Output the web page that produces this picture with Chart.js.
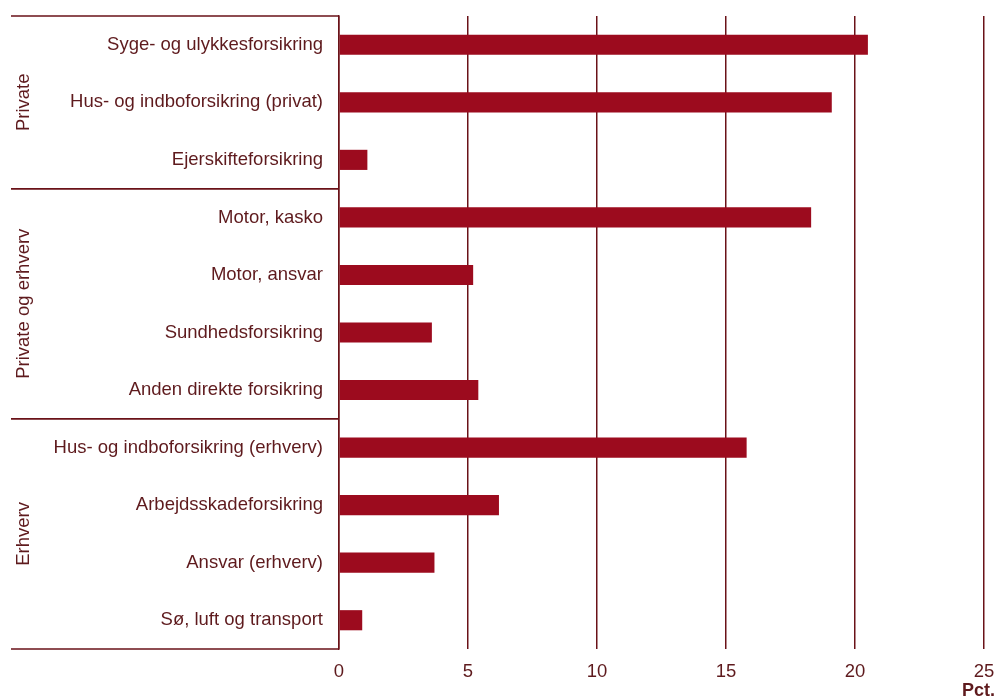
<!DOCTYPE html>
<html>
<head>
<meta charset="utf-8">
<script src="https://cdn.jsdelivr.net/npm/chart.js@4"></script>
<style>
  body { margin: 0; background: #fff; }
  canvas { display: block; }
</style>
</head>
<body>
<canvas id="myChart" width="997" height="697"></canvas>
<script>
const categories = [
  "Syge- og ulykkesforsikring",
  "Hus- og indboforsikring (privat)",
  "Ejerskifteforsikring",
  "Motor, kasko",
  "Motor, ansvar",
  "Sundhedsforsikring",
  "Anden direkte forsikring",
  "Hus- og indboforsikring (erhverv)",
  "Arbejdsskadeforsikring",
  "Ansvar (erhverv)",
  "Sø, luft og transport"
];
const shares = [20.5, 19.1, 1.1, 18.3, 5.2, 3.6, 5.4, 15.8, 6.2, 3.7, 0.9];

// groups: label, first row, last row
const groupNames = ["Private", "Private og erhverv", "Erhverv"];
const groupStart = [0, 3, 7];
const groupEnd = [2, 6, 10];

const textColor = "#5e1a1d";
const lineColor = "#6a1218";
const barColor = "#9c0b1e";
const fontFamily = "'Liberation Sans', Arial, sans-serif";
const fontSize = 18.5;

const groupPlugin = {
  id: "groups",
  afterDraw(chart) {
    const ctx = chart.ctx;
    const y = chart.scales.y;
    const x = chart.scales.x;
    const step = y.getPixelForValue(1) - y.getPixelForValue(0);
    const left = 11;
    const right = y.right;

    ctx.save();
    ctx.strokeStyle = lineColor;
    ctx.lineWidth = 1.5;
    ctx.fillStyle = textColor;
    ctx.font = fontSize + "px " + fontFamily;
    ctx.textAlign = "center";
    ctx.textBaseline = "middle";

    groupNames.forEach((name, i) => {
      const top = y.getPixelForValue(groupStart[i]) - step / 2;
      const bottom = y.getPixelForValue(groupEnd[i]) + step / 2;

      ctx.beginPath();
      ctx.moveTo(left, top);
      ctx.lineTo(right, top);
      ctx.moveTo(left, bottom);
      ctx.lineTo(right, bottom);
      ctx.stroke();

      ctx.save();
      ctx.translate(24, (top + bottom) / 2);
      ctx.rotate(-Math.PI / 2);
      ctx.fillText(name, 0, 0);
      ctx.restore();
    });

    // unit label under the axis end
    ctx.font = "bold 18px " + fontFamily;
    ctx.textAlign = "right";
    ctx.fillText("Pct.", x.right + 11, 691);
    ctx.restore();
  }
};

new Chart(document.getElementById("myChart"), {
  type: "bar",
  data: {
    labels: categories,
    datasets: [{
      data: shares,
      backgroundColor: barColor,
      borderWidth: 0,
      barPercentage: 0.35,
      categoryPercentage: 1
    }]
  },
  options: {
    indexAxis: "y",
    responsive: false,
    animation: false,
    layout: { padding: { top: 16, right: 13, left: 0, bottom: 0 } },
    plugins: {
      legend: { display: false },
      tooltip: { enabled: false }
    },
    scales: {
      x: {
        min: 0,
        max: 25,
        ticks: {
          stepSize: 5,
          color: textColor,
          padding: 12,
          font: { family: fontFamily, size: fontSize }
        },
        grid: {
          color: lineColor,
          lineWidth: 1.5,
          drawTicks: false
        },
        border: { display: false },
        afterFit(scale) {
          scale.height = 48;
          scale.paddingLeft = 0;
          scale.paddingRight = 0;
        }
      },
      y: {
        ticks: {
          color: textColor,
          padding: 8,
          font: { family: fontFamily, size: fontSize }
        },
        grid: { display: false },
        border: { display: true, color: lineColor, width: 1.5 },
        afterFit(scale) {
          scale.width = 339;
          scale.paddingTop = 0;
          scale.paddingBottom = 0;
        }
      }
    }
  },
  plugins: [groupPlugin]
});
</script>
</body>
</html>
